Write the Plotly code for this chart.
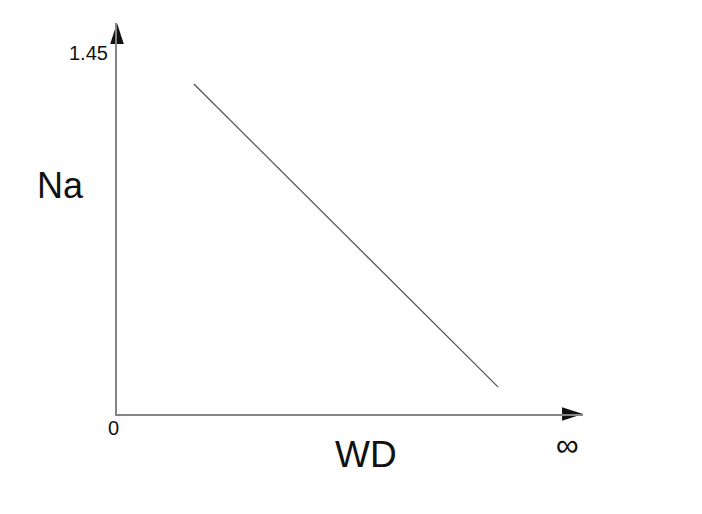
import plotly.graph_objects as go

# ── data (schematic: Na falls as WD grows) ─────────────────────────────────────
WD = [0.165, 0.818]
NA = [1.325, 0.108]

X_MAX = 1.0     # "∞" end of the WD axis
Y_MAX = 1.57    # arrow tip of the Na axis

W, H = 702, 514
OFF = 8         # page body margin
L, T = 117 - OFF, 23 - OFF
R, B = W - (583 - OFF), H - (414 - OFF)

AXIS_COL = "#858585"
FONT = "Liberation Sans, Arial, sans-serif"


def to_paper(px, py):
    # screenshot pixel -> paper fraction
    x = (px - OFF - L) / (W - L - R)
    y = (H - B - (py - OFF)) / (H - B - T)
    return x, y


fig = go.Figure()

fig.add_trace(go.Scatter(
    x=WD, y=NA, mode="lines",
    line=dict(color="#555555", width=1.3),
    showlegend=False, hoverinfo="skip",
))

# arrow heads at the axis ends
fig.add_trace(go.Scatter(
    x=[X_MAX, 0], y=[0, Y_MAX], mode="markers",
    marker=dict(symbol="arrow", size=22, angle=[90, 0], color="#111111",
                line=dict(width=0)),
    cliponaxis=False, showlegend=False, hoverinfo="skip",
))

labels = [
    ("1.45", 88, 53, 20),
    ("Na", 60, 185, 36),
    ("0", 113, 428, 20),
    ("WD", 366, 454, 37),
    ("∞", 567, 445, 32),
]
for txt, px, py, size in labels:
    x, y = to_paper(px, py)
    fig.add_annotation(x=x, y=y, xref="paper", yref="paper", text=txt,
                       showarrow=False, xanchor="center", yanchor="middle",
                       font=dict(family=FONT, size=size, color="#111111"))

axis = dict(showline=True, linewidth=2.2, linecolor=AXIS_COL, showgrid=False,
            zeroline=False, showticklabels=False, ticks="", fixedrange=True)

fig.update_layout(
    width=W, height=H,
    margin=dict(l=L, r=R, t=T, b=B),
    paper_bgcolor="white", plot_bgcolor="white",
    xaxis=dict(range=[0, X_MAX], **axis),
    yaxis=dict(range=[0, Y_MAX], **axis),
    font=dict(family=FONT),
)

fig.write_html("out.html")
